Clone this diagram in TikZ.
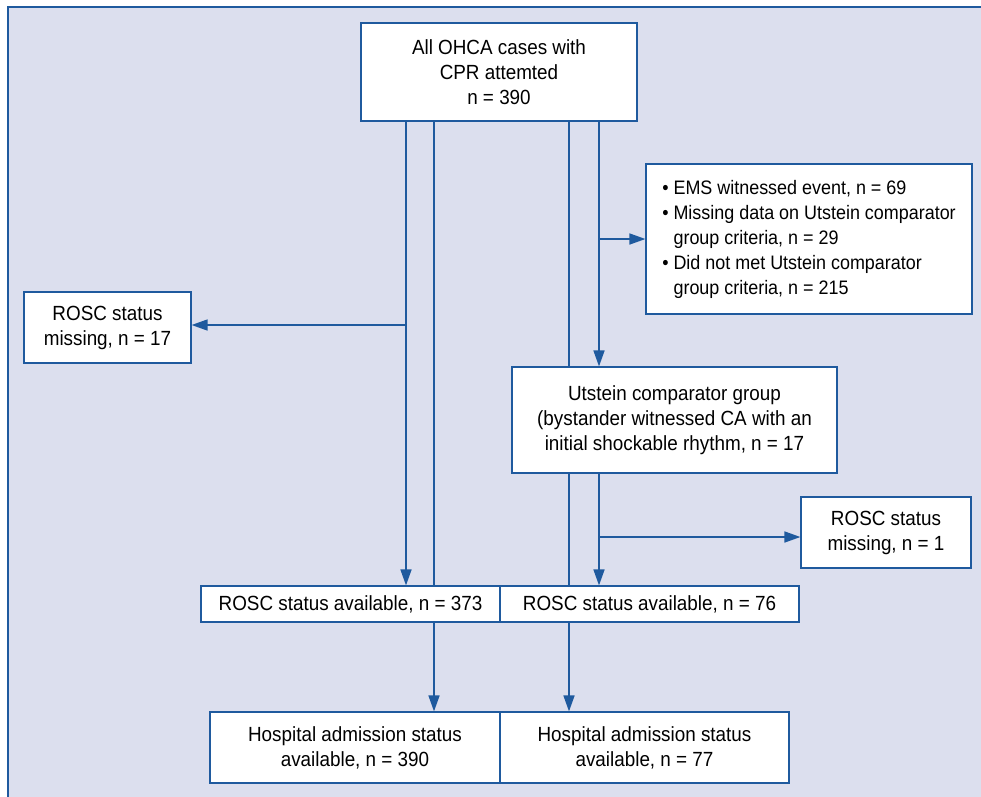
\documentclass[tikz,border=0pt]{standalone}
\usepackage{fontspec}
\setmainfont{Liberation Sans}[FakeStretch=0.92]
\usepackage{tikz}
\usetikzlibrary{arrows.meta, positioning, calc}
\definecolor{bgpanel}{HTML}{DCDFEE}
\definecolor{flowblue}{HTML}{1F5A9E}

\tikzset{
  stagebox/.style={draw=flowblue, line width=1.2pt, fill=white, align=center,
    inner sep=0pt, font=\fontsize{20.5}{25}\selectfont},
  flow/.style={draw=flowblue, line width=1.6pt},
  flowarrow/.style={flow, -{Triangle[length=16pt, width=11pt]}}
}

\begin{document}
\begin{tikzpicture}[x=1pt, y=-1pt]
\useasboundingbox (0,0) rectangle (981,796);
% Panel
\draw[draw=flowblue, line width=2pt, fill=bgpanel] (8,7) rectangle (990,805);

% Boxes
\node[stagebox, minimum width=276pt, minimum height=98pt] (all) at (499,72)
  {All OHCA cases with\\CPR attemted\\n = 390};
\node[stagebox, minimum width=326pt, minimum height=150pt, align=left,
  font=\fontsize{19.5}{25}\selectfont] (excl) at (809,239)
  {\begin{tabular}{@{}l@{\hspace{5pt}}l@{}}
   \textbullet & EMS witnessed event, n = 69\\
   \textbullet & Missing data on Utstein comparator\\
               & group criteria, n = 29\\
   \textbullet & Did not met Utstein comparator\\
               & group criteria, n = 215
   \end{tabular}};
\node[stagebox, minimum width=167pt, minimum height=71pt] (missL) at (107.5,327.5)
  {ROSC status\\missing, n = 17};
\node[stagebox, minimum width=325pt, minimum height=106pt] (utstein) at (674.5,420)
  {Utstein comparator group\\(bystander witnessed CA with an\\initial shockable rhythm, n = 17};
\node[stagebox, minimum width=170pt, minimum height=71pt] (missR) at (886,532.5)
  {ROSC status\\missing, n = 1};
\node[stagebox, minimum width=299pt, minimum height=36pt] (availL) at (350.5,604)
  {ROSC status available, n = 373};
\node[stagebox, minimum width=299pt, minimum height=36pt] (availR) at (649.5,604)
  {ROSC status available, n = 76};
\node[stagebox, minimum width=290pt, minimum height=71pt] (hospL) at (355,747.5)
  {Hospital admission status\\available, n = 390};
\node[stagebox, minimum width=289pt, minimum height=71pt] (hospR) at (644.5,747.5)
  {Hospital admission status\\available, n = 77};

% Lanes leaving the top box
\coordinate (laneA) at ([xshift=-93pt]all.south);
\coordinate (laneB) at ([xshift=-65pt]all.south);
\coordinate (laneC) at ([xshift=70pt]all.south);
\coordinate (laneD) at ([xshift=100pt]all.south);

% Whole cohort
\draw[flowarrow] (laneA) -- (laneA |- availL.north);
\coordinate (turnL) at ($(laneA |- missL.east)+(0,-2.5)$);
\draw[flowarrow] (turnL) -- (turnL -| missL.east);
\draw[flow] (laneB) -- (laneB |- availL.north);
\draw[flowarrow] (laneB |- availL.south) -- (laneB |- hospL.north);

% Utstein comparator group
\draw[flowarrow] (laneD) -- (laneD |- utstein.north);
\draw[flowarrow] (laneD |- excl.west) -- (excl.west);
\draw[flow] (laneC) -- (laneC |- utstein.north);
\draw[flow] (laneC |- utstein.south) -- (laneC |- availR.north);
\draw[flowarrow] (laneD |- utstein.south) -- (laneD |- availR.north);
\coordinate (turnR) at ($(laneD |- missR.west)+(0,4.5)$);
\draw[flowarrow] (turnR) -- (turnR -| missR.west);
\draw[flowarrow] (laneC |- availR.south) -- (laneC |- hospR.north);
\end{tikzpicture}
\end{document}
